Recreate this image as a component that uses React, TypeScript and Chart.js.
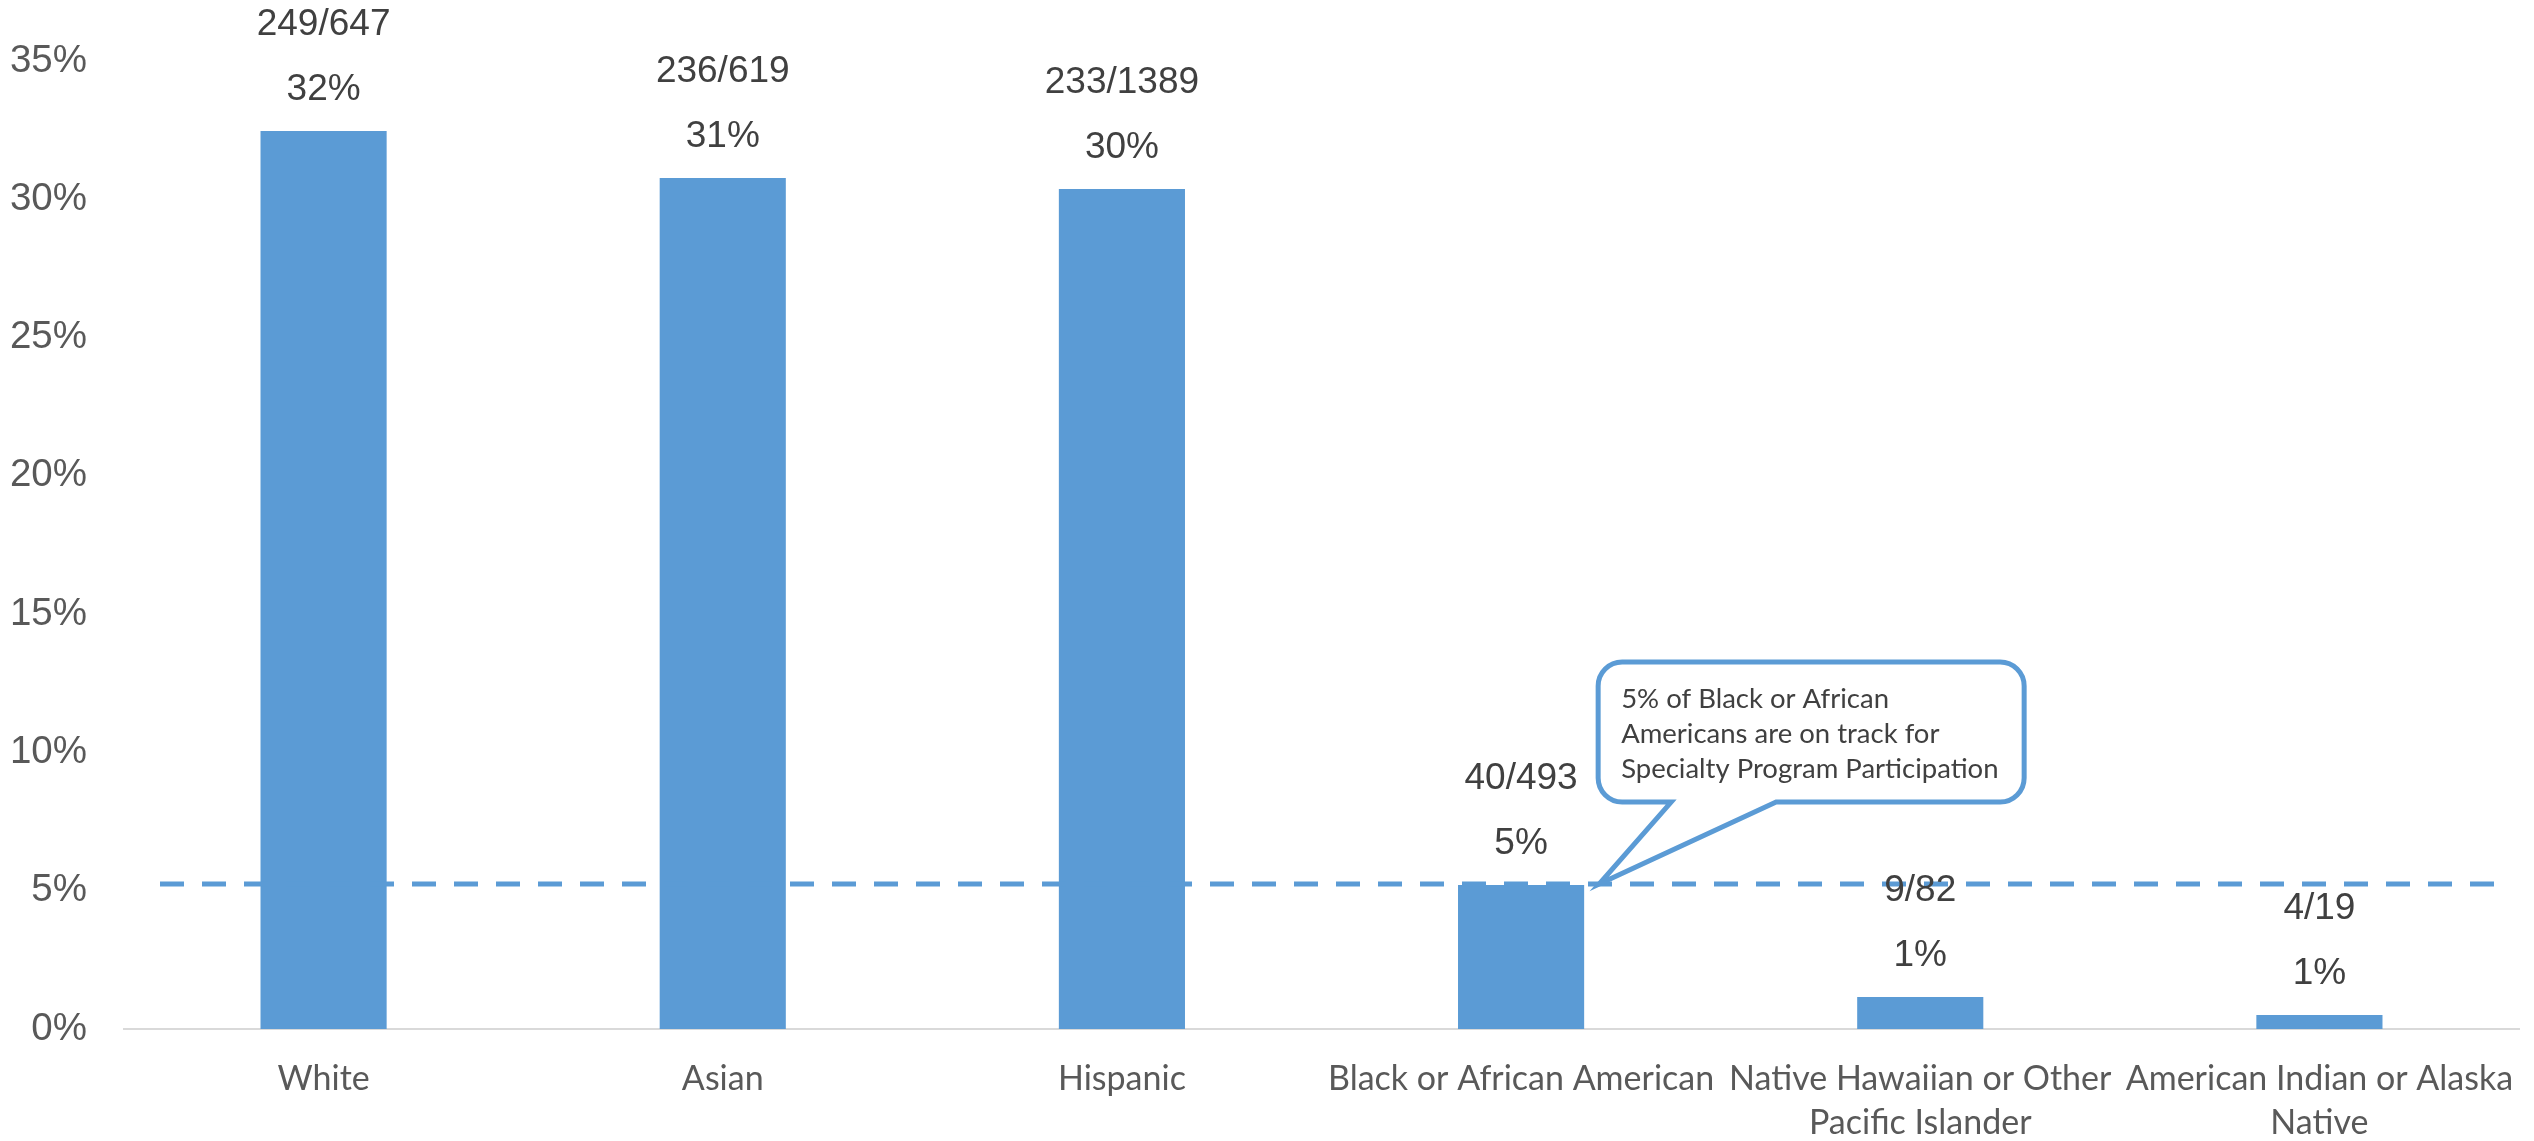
import React, { useEffect, useRef } from "react";
import { Chart, registerables } from "chart.js";

Chart.register(...registerables);

// ---- data ----
const categories: string[][] = [
  ["White"],
  ["Asian"],
  ["Hispanic"],
  ["Black or African American"],
  ["Native Hawaiian or Other", "Pacific Islander"],
  ["American Indian or Alaska", "Native"],
];
const values = [32.47, 30.77, 30.37, 5.21, 1.16, 0.51];
const percentLabels = ["32%", "31%", "30%", "5%", "1%", "1%"];
const countLabels = ["249/647", "236/619", "233/1389", "40/493", "9/82", "4/19"];
const referenceValue = 5.24;
const yMin = 0;
const yMax = 35;
const yStep = 5;
const calloutLines = [
  "5% of Black or African",
  "Americans are on track for",
  "Specialty Program Participation",
];
const calloutCategoryIndex = 3;

// ---- style ----
const BLUE = "#5b9bd5";
const TICK_COLOR = "#595959";
const LABEL_COLOR = "#404040";
const NUM_FONT = "'Liberation Sans', Arial, sans-serif";
const TEXT_FONT = "Lato, 'Open Sans', sans-serif";

const refLinePlugin = {
  id: "refLine",
  afterDatasetsDraw(chart: any) {
    const { ctx, chartArea, scales } = chart;
    const py = scales.y.getPixelForValue(referenceValue);
    ctx.save();
    ctx.strokeStyle = BLUE;
    ctx.lineWidth = 5;
    ctx.setLineDash([24, 18]);
    ctx.beginPath();
    ctx.moveTo(chartArea.left + 36, py);
    ctx.lineTo(chartArea.right - 25, py);
    ctx.stroke();
    ctx.restore();
  },
};

const barLabelPlugin = {
  id: "barLabels",
  afterDatasetsDraw(chart: any) {
    const { ctx } = chart;
    const meta = chart.getDatasetMeta(0);
    ctx.save();
    ctx.fillStyle = LABEL_COLOR;
    ctx.font = `37px ${NUM_FONT}`;
    ctx.textAlign = "center";
    ctx.textBaseline = "middle";
    meta.data.forEach((bar: any, i: number) => {
      ctx.fillText(percentLabels[i], bar.x, bar.y - 41);
      ctx.fillText(countLabels[i], bar.x, bar.y - 106);
    });
    ctx.restore();
  },
};

const calloutPlugin = {
  id: "callout",
  afterDraw(chart: any) {
    const { ctx, scales } = chart;
    const bar = chart.getDatasetMeta(0).data[calloutCategoryIndex] as any;
    const tipX = bar.x + bar.width / 2 + 15;
    const tipY = scales.y.getPixelForValue(referenceValue);
    const left = tipX - 1;
    const right = left + 426;
    const top = tipY - 222;
    const bottom = tipY - 82;
    const r = 24;
    const baseL = tipX + 72;
    const baseR = tipX + 177;
    ctx.save();
    ctx.beginPath();
    ctx.moveTo(left + r, top);
    ctx.lineTo(right - r, top);
    ctx.arcTo(right, top, right, top + r, r);
    ctx.lineTo(right, bottom - r);
    ctx.arcTo(right, bottom, right - r, bottom, r);
    ctx.lineTo(baseR, bottom);
    ctx.lineTo(tipX, tipY);
    ctx.lineTo(baseL, bottom);
    ctx.lineTo(left + r, bottom);
    ctx.arcTo(left, bottom, left, bottom - r, r);
    ctx.lineTo(left, top + r);
    ctx.arcTo(left, top, left + r, top, r);
    ctx.closePath();
    ctx.fillStyle = "#ffffff";
    ctx.fill();
    ctx.lineWidth = 5;
    ctx.lineJoin = "miter";
    ctx.strokeStyle = BLUE;
    ctx.stroke();
    ctx.fillStyle = LABEL_COLOR;
    ctx.font = `27.5px ${TEXT_FONT}`;
    ctx.textAlign = "left";
    ctx.textBaseline = "middle";
    calloutLines.forEach((line, i) => {
      ctx.fillText(line, left + 23, top + 37 + i * 35);
    });
    ctx.restore();
  },
};

export default function App() {
  const canvasRef = useRef<HTMLCanvasElement | null>(null);

  useEffect(() => {
    if (!canvasRef.current) return;
    const chart = new Chart(canvasRef.current, {
      type: "bar",
      data: {
        labels: categories,
        datasets: [
          {
            data: values,
            backgroundColor: BLUE,
            borderWidth: 0,
            barPercentage: 0.316,
            categoryPercentage: 1,
          },
        ],
      },
      options: {
        animation: false,
        responsive: false,
        devicePixelRatio: 1,
        layout: { padding: { top: 61, right: 15, left: 0, bottom: 0 } },
        plugins: {
          legend: { display: false },
          title: { display: false },
          tooltip: { enabled: false },
        },
        scales: {
          x: {
            grid: { display: false, drawTicks: false },
            border: { display: true, color: "#d9d9d9", width: 2 },
            ticks: {
              color: TICK_COLOR,
              font: { family: TEXT_FONT, size: 34, lineHeight: 1.3 },
              padding: 28,
              autoSkip: false,
              maxRotation: 0,
              minRotation: 0,
            },
            afterFit(scale: any) {
              scale.height = 112;
              scale.paddingLeft = 0;
              scale.paddingRight = 0;
            },
          },
          y: {
            min: yMin,
            max: yMax,
            grid: { display: false, drawTicks: false },
            border: { display: false },
            ticks: {
              stepSize: yStep,
              color: TICK_COLOR,
              font: { family: NUM_FONT, size: 38.5 },
              padding: 37,
              callback: (v: any) => `${v}%`,
            },
            afterFit(scale: any) {
              scale.width = 124;
            },
          },
        },
      },
      plugins: [refLinePlugin, barLabelPlugin, calloutPlugin],
    });
    return () => chart.destroy();
  }, []);

  return (
    <div style={{ position: "absolute", left: 0, top: 0, width: 2534, height: 1141, background: "#fff" }}>
      <canvas ref={canvasRef} width={2534} height={1141} style={{ display: "block" }} />
    </div>
  );
}
